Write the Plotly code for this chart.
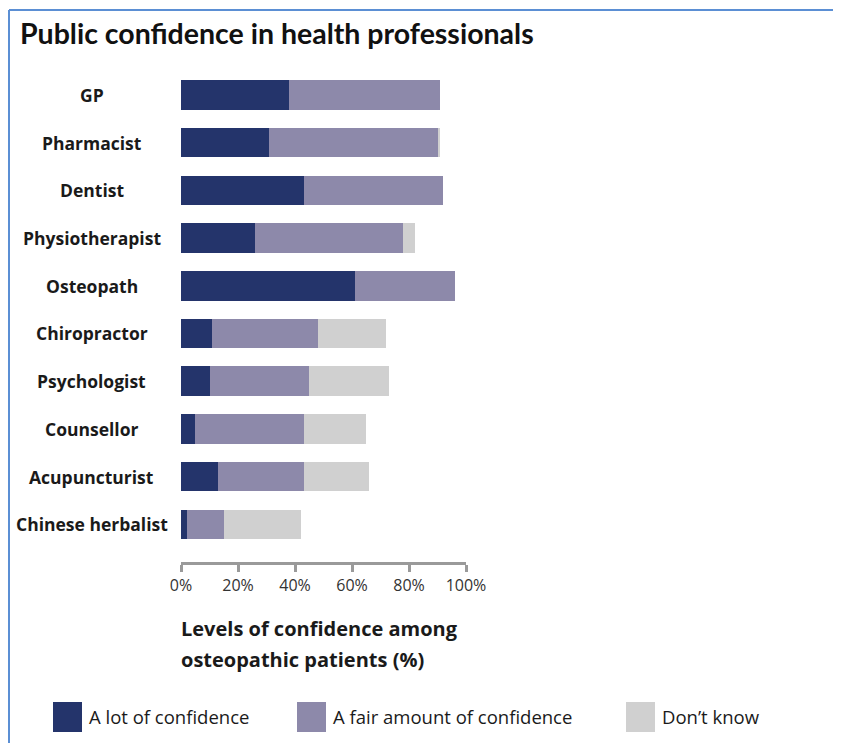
import plotly.graph_objects as go

# ---- data ----
professions = ["GP", "Pharmacist", "Dentist", "Physiotherapist", "Osteopath",
               "Chiropractor", "Psychologist", "Counsellor", "Acupuncturist",
               "Chinese herbalist"]
a_lot = [38, 31, 43, 26, 61, 11, 10, 5, 13, 2]
fair_amount = [53, 59, 49, 52, 35, 37, 35, 38, 30, 13]
dont_know = [0, 1, 0, 4, 0, 24, 28, 22, 23, 27]
series_names = ["A lot of confidence", "A fair amount of confidence", "Don\u2019t know"]
tick_values = [0, 20, 40, 60, 80, 100]
tick_labels = ["0%", "20%", "40%", "60%", "80%", "100%"]

colors = ["#24346b", "#8d89aa", "#d0d0d0"]

OFF = 8  # default page body margin
W, H = 841 - OFF, 743 - OFF
ML, MR, MT, MB = 173, 375, 63, 181
PW, PH = W - ML - MR, H - MT - MB


def px(xp):
    """page pixel x -> paper x"""
    return (xp - OFF - ML) / PW


def py(yp):
    """page pixel y -> paper y"""
    return 1 - (yp - OFF - MT) / PH


fig = go.Figure()
for name, vals, col in zip(series_names, [a_lot, fair_amount, dont_know], colors):
    fig.add_trace(go.Bar(y=professions, x=vals, orientation="h", name=name,
                         marker=dict(color=col, line=dict(width=0)),
                         showlegend=False, hoverinfo="x+y+name"))

label_font = "Open Sans, Lato, sans-serif"

annotations = []
# category labels, centered
for p in professions:
    annotations.append(dict(x=px(92), xref="paper", y=p, yref="y", text=p,
                            showarrow=False, xanchor="center", yanchor="middle",
                            font=dict(family=label_font, size=17.5, color="#1a1a1a",
                                      weight="bold")))
# title
annotations.append(dict(x=px(18), xref="paper", y=py(33), yref="paper",
                        text="Public confidence in health professionals",
                        showarrow=False, xanchor="left", yanchor="middle",
                        font=dict(family="Lato, sans-serif",
                                  size=28.5, color="#111111", weight="bold")))
# axis title (two lines)
for txt, yy in [("Levels of confidence among", 628), ("osteopathic patients (%)", 659)]:
    annotations.append(dict(x=px(179), xref="paper", y=py(yy), yref="paper",
                            text=txt, showarrow=False, xanchor="left", yanchor="middle",
                            font=dict(family=label_font, size=20, color="#1a1a1a",
                                      weight="bold")))

shapes = []
# frame (top and left)
shapes.append(dict(type="line", xref="paper", yref="paper", x0=px(9), x1=px(845),
                   y0=py(10), y1=py(10), line=dict(color="#5b8fd4", width=2)))
shapes.append(dict(type="line", xref="paper", yref="paper", x0=px(9), x1=px(9),
                   y0=py(10), y1=py(750), line=dict(color="#5b8fd4", width=2)))

# legend swatches and labels
legend_swatch_x = [53, 297, 626]
for name, col, sx in zip(series_names, colors, legend_swatch_x):
    shapes.append(dict(type="rect", xref="paper", yref="paper",
                       x0=px(sx), x1=px(sx + 29), y0=py(702), y1=py(732),
                       fillcolor=col, line=dict(width=0)))
    annotations.append(dict(x=px(sx + 34), xref="paper", y=py(716), yref="paper",
                            text=name, showarrow=False, xanchor="left", yanchor="middle",
                            font=dict(family=label_font, size=18.5, color="#1a1a1a")))

fig.update_layout(
    barmode="stack",
    bargap=0.38,
    width=W, height=H,
    margin=dict(l=ML, r=MR, t=MT, b=MB, pad=0),
    paper_bgcolor="white", plot_bgcolor="white",
    xaxis=dict(range=[0, 100], tickvals=tick_values, ticktext=tick_labels,
               showgrid=False, zeroline=False, showline=True, linecolor="#9a9a9a",
               linewidth=3, ticks="outside", ticklen=7, tickwidth=3, tickcolor="#9a9a9a",
               tickfont=dict(family=label_font, size=16, color="#333333"),
               fixedrange=True),
    yaxis=dict(categoryorder="array", categoryarray=professions,
               range=[len(professions) - 1 + 0.79, -0.5], showticklabels=False,
               showgrid=False, zeroline=False, showline=False, ticks="",
               fixedrange=True),
    annotations=annotations,
    shapes=shapes,
    showlegend=False,
)

fig.write_html("out.html")
